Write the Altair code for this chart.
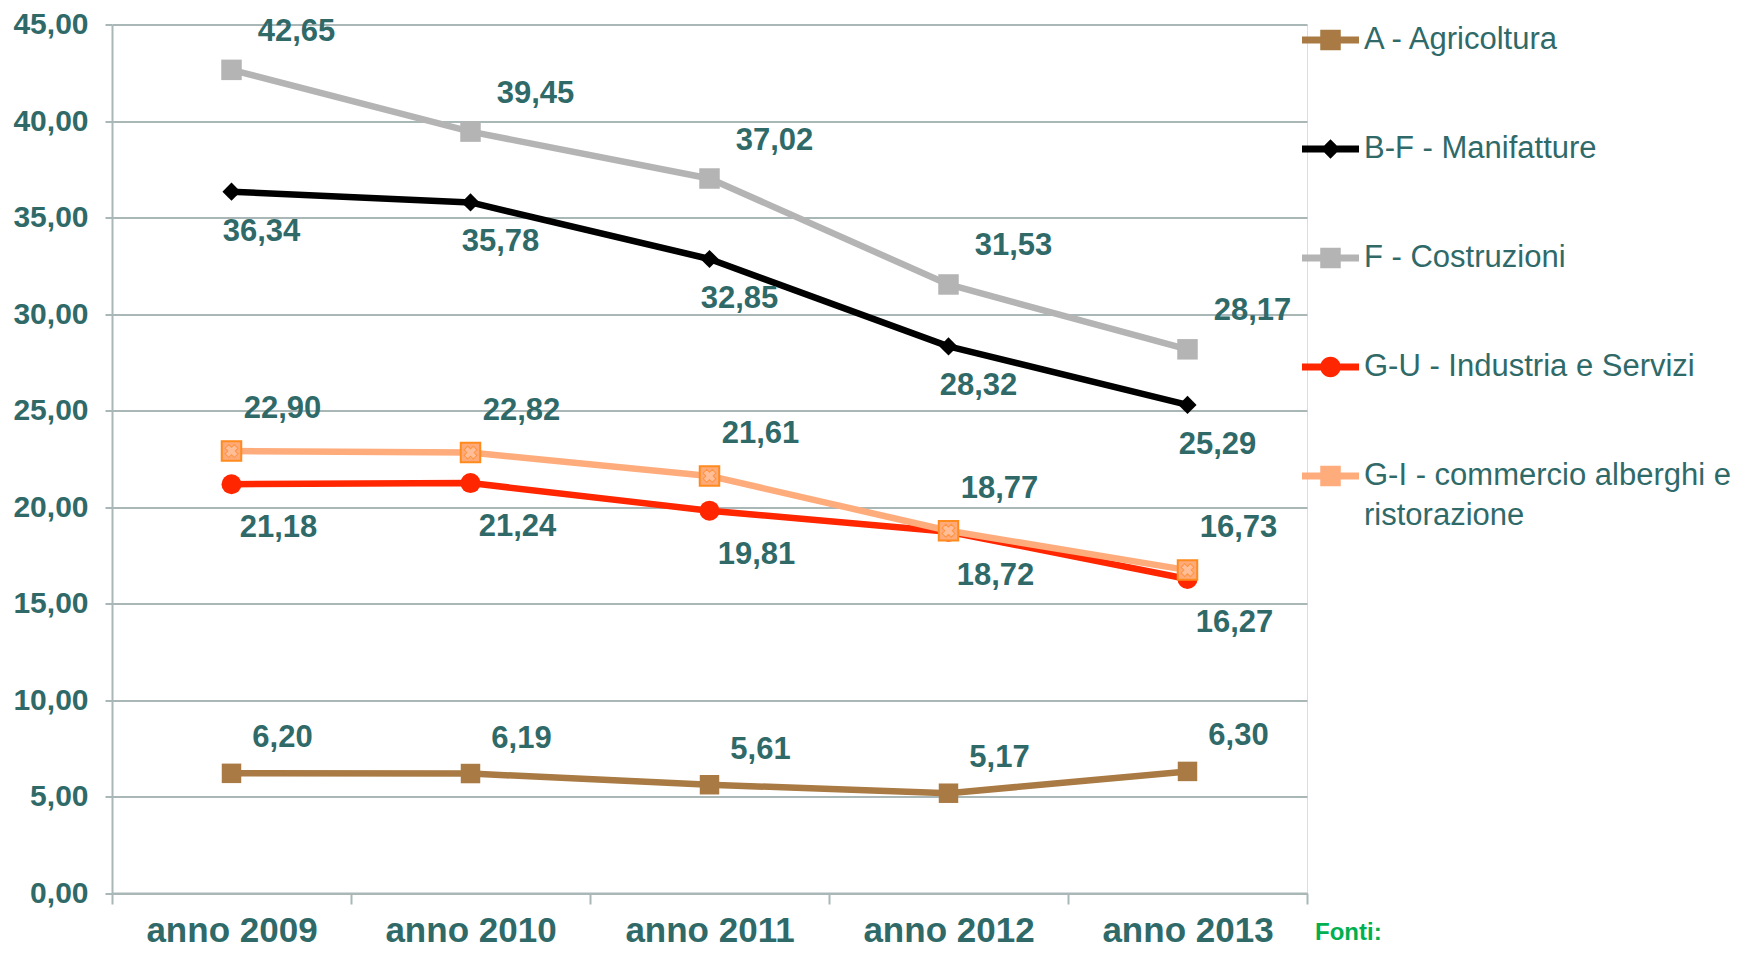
import altair as alt
import pandas as pd

# ---------------- data ----------------
years = ["anno 2009", "anno 2010", "anno 2011", "anno 2012", "anno 2013"]
series_names = [
    "A - Agricoltura",
    "B-F - Manifatture",
    "F - Costruzioni",
    "G-U - Industria e Servizi",
    "G-I - commercio alberghi e ristorazione",
]
agricoltura = [6.20, 6.19, 5.61, 5.17, 6.30]
manifatture = [36.34, 35.78, 32.85, 28.32, 25.29]
costruzioni = [42.65, 39.45, 37.02, 31.53, 28.17]
industria_servizi = [21.18, 21.24, 19.81, 18.72, 16.27]
commercio_alberghi = [22.90, 22.82, 21.61, 18.77, 16.73]
y_ticks = [0, 5, 10, 15, 20, 25, 30, 35, 40, 45]
note_text = ["Fonti:"]

all_values = [agricoltura, manifatture, costruzioni, industria_servizi, commercio_alberghi]
rows = []
for name, vals in zip(series_names, all_values):
    for yr, v in zip(years, vals):
        rows.append({"anno": yr, "serie": name, "valore": v})
df = pd.DataFrame(rows)

# ---------------- styles ----------------
TEXT = "#2F6A69"
GRID = "#A9B7B7"
FONT = "Liberation Sans"

styles = {
    "A - Agricoltura": dict(color="#A97A43", shape="square", size=380, dx=51, dy=-35),
    "B-F - Manifatture": dict(color="#000000", shape="diamond", size=330, dx=30, dy=40),
    "F - Costruzioni": dict(color="#B4B4B4", shape="square", size=420, dx=65, dy=-38),
    "G-U - Industria e Servizi": dict(color="#FF2600", shape="circle", size=400, dx=47, dy=44),
    "G-I - commercio alberghi e ristorazione": dict(color="#FFAC7C", shape="square", size=380, dx=51, dy=-42),
}

line_part = "M-1,-0.12 L1,-0.12 L1,0.12 L-1,0.12 Z "
square_part = "M-0.36,-0.36 L0.36,-0.36 L0.36,0.36 L-0.36,0.36 Z"
diamond_part = "M0,-0.34 L0.34,0 L0,0.34 L-0.34,0 Z"
circle_part = "M-0.36,0 A0.36,0.36 0 1,1 0.36,0 A0.36,0.36 0 1,1 -0.36,0 Z"
legend_paths = [
    line_part + square_part,
    line_part + diamond_part,
    line_part + square_part,
    line_part + circle_part,
    line_part + square_part,
]
legend_colors = [styles[n]["color"] for n in series_names]

x_enc = alt.X(
    "anno:N",
    sort=years,
    bandPosition=0.5,
    scale=alt.Scale(type="band", paddingInner=0, paddingOuter=0),
    axis=alt.Axis(
        title=None,
        labelAngle=0,
        labelFont=FONT,
        labelFontSize=35,
        labelFontWeight="bold",
        labelColor=TEXT,
        labelPadding=9,
        labelLimit=500,
        tickBand="extent",
        tickSize=11,
        tickColor=GRID,
        tickWidth=2,
        domainColor=GRID,
        domainWidth=2,
        grid=False,
    ),
)
y_enc = alt.Y(
    "valore:Q",
    scale=alt.Scale(domain=[0, 45], nice=False, zero=True),
    axis=alt.Axis(
        title=None,
        values=y_ticks,
        labelExpr="replace(format(datum.value, '.2f'), '.', ',')",
        labelFont=FONT,
        labelFontSize=30,
        labelFontWeight="bold",
        labelColor=TEXT,
        labelPadding=17,
        tickSize=7,
        tickColor=GRID,
        tickWidth=2,
        domainColor=GRID,
        domainWidth=2,
        grid=True,
        gridColor=GRID,
        gridWidth=2,
    ),
)

base = alt.Chart(df).transform_calculate(
    etichetta="replace(format(datum.valore, '.2f'), '.', ',')"
)

line_layers = []
label_layers = []
for name in series_names:
    st = styles[name]
    sub = base.transform_filter(alt.datum.serie == name)
    line_layers.append(
        sub.mark_line(color=st["color"], strokeWidth=6.5, strokeJoin="round").encode(x=x_enc, y=y_enc)
    )
    if name.startswith("G-I"):
        line_layers.append(
            sub.mark_point(shape="square", filled=True, size=st["size"], fill="#FFAA78",
                           stroke="#FF8A1E", strokeWidth=2, opacity=1).encode(x=x_enc, y=y_enc)
        )
        line_layers.append(
            sub.mark_point(shape="cross", angle=45, filled=True, size=170, fill="#FFBE98",
                           stroke="#FF9440", strokeWidth=1, opacity=1).encode(x=x_enc, y=y_enc)
        )
    else:
        line_layers.append(
            sub.mark_point(shape=st["shape"], filled=True, size=st["size"], color=st["color"],
                           opacity=1).encode(x=x_enc, y=y_enc)
        )
    label_layers.append(
        sub.mark_text(font=FONT, fontSize=31, fontWeight="bold", color=TEXT,
                      dx=st["dx"], dy=st["dy"], align="center", baseline="middle")
        .encode(x=x_enc, y=y_enc, text="etichetta:N")
    )

legend_props = dict(
    orient="none",
    legendX=1190,
    legendY=-13,
    direction="vertical",
    title=None,
    padding=0,
    labelFont=FONT,
    labelFontSize=31,
    labelColor=TEXT,
    labelOffset=5,
    labelLimit=900,
    rowPadding=65,
    symbolSize=3249,
    symbolStrokeWidth=0,
    labelExpr="datum.label == 'G-I - commercio alberghi e ristorazione' ? ['G-I - commercio alberghi e', 'ristorazione'] : datum.label",
)

legend_layer = base.transform_filter("false").mark_point(
    filled=True, size=3249, opacity=1, strokeWidth=0
).encode(
    x=x_enc,
    y=y_enc,
    color=alt.Color("serie:N", scale=alt.Scale(domain=series_names, range=legend_colors),
                    legend=alt.Legend(**legend_props)),
    shape=alt.Shape("serie:N", scale=alt.Scale(domain=series_names, range=legend_paths),
                    legend=alt.Legend(**legend_props)),
)

note = alt.Chart(pd.DataFrame({"nota": note_text})).mark_text(
    align="left", baseline="middle", font=FONT, fontSize=24, fontWeight="bold", color="#00B050"
).encode(x=alt.value(1203), y=alt.value(908), text="nota:N")

chart = alt.layer(*line_layers, *label_layers, legend_layer, note).properties(
    width=1195,
    height=868.5,
    autosize=alt.AutoSizeParams(type="none"),
    padding={"left": 104, "top": 16.5, "right": 429, "bottom": 56},
).configure_view(stroke=None).configure(
    background="white",
    style={"guide-label": {"lineHeight": 40}},
)

chart.save("out.html", embed_options={"renderer": "svg", "actions": False})
